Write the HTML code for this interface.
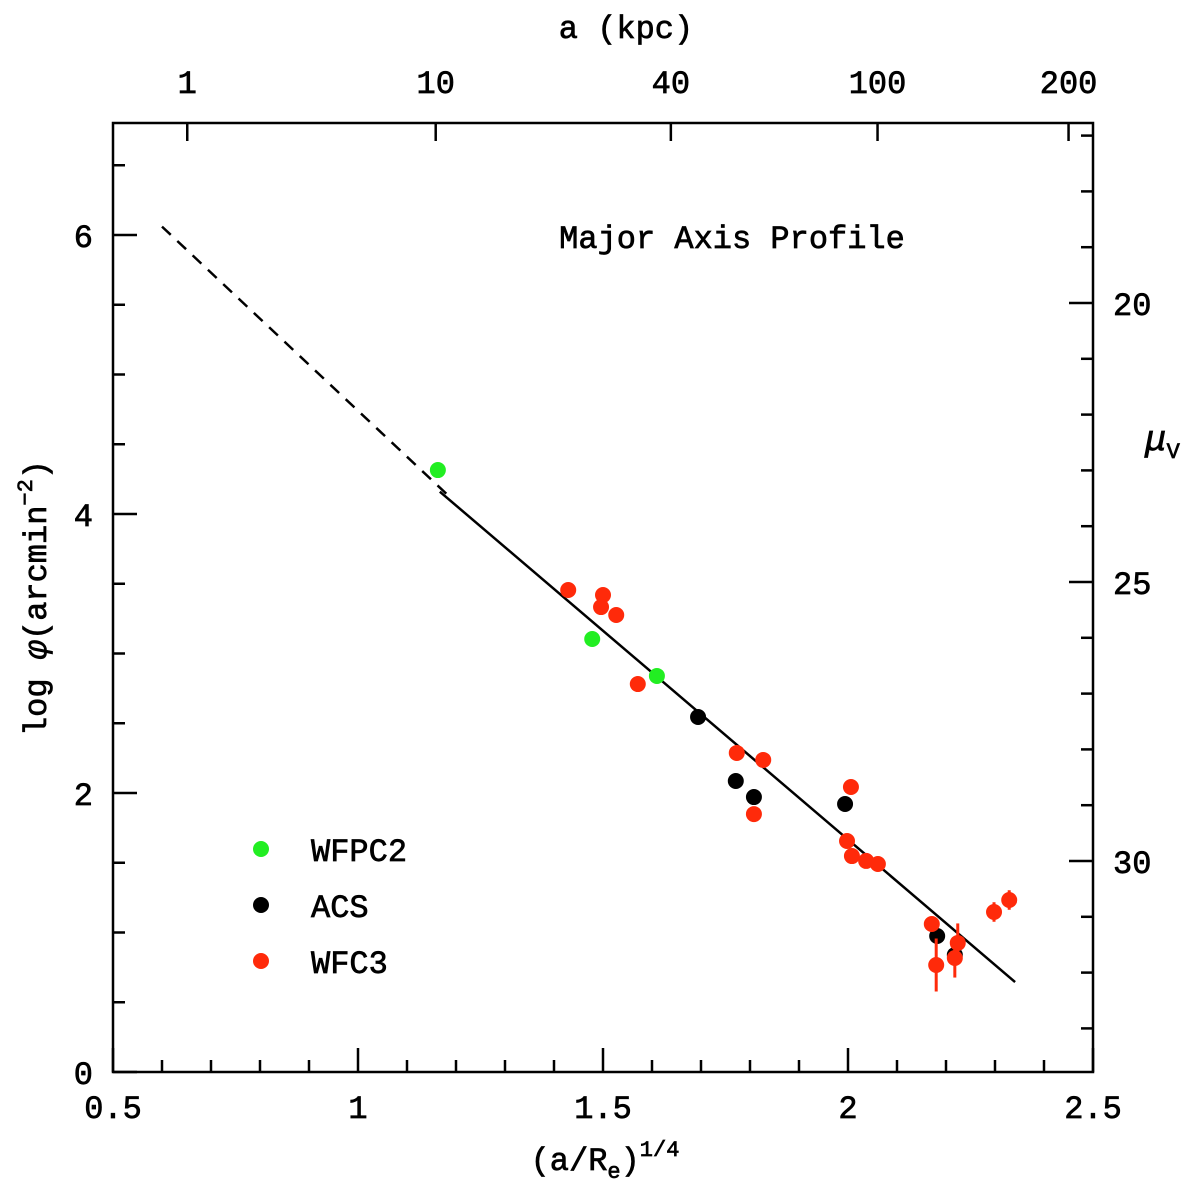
<!DOCTYPE html>
<html><head><meta charset="utf-8"><style>
html,body{margin:0;padding:0;background:#fff;}
svg text{font-family:"Liberation Mono",monospace;fill:#000;stroke:#000;stroke-width:0.7;}
</style></head><body>
<svg id="chart" width="1200" height="1188" viewBox="0 0 1200 1188" xmlns="http://www.w3.org/2000/svg"></svg>
<script>
const greenX=[1.163,1.478,1.610];
const greenY=[4.315,3.104,2.839];
const blackX=[1.694,1.771,1.808,1.994,2.182,2.218];
const blackY=[2.545,2.086,1.971,1.921,0.975,0.839];
const redX=[1.429,1.500,1.496,1.527,1.571,1.773,1.827,2.006,1.808,1.998,2.008,2.037,2.061,2.171,2.180,2.218,2.224,2.298,2.329];
const redY=[3.455,3.419,3.333,3.276,2.781,2.287,2.237,2.043,1.849,1.656,1.548,1.513,1.491,1.061,0.767,0.817,0.925,1.147,1.233];
const redErr=[0,0,0,0,0,0,0,0,0,0,0,0,0,0.05,0.19,0.14,0.14,0.07,0.07];
const fitDashX=[0.6,1.188];
const fitDashY=[6.06,4.12];
const fitX=[1.167,2.341];
const fitY=[4.16,0.645];
const xTicks=[0.5,1,1.5,2,2.5];
const xTickLabels=["0.5","1","1.5","2","2.5"];
const yTicks=[0,2,4,6];
const yTickLabels=["0","2","4","6"];
const muTicks=[20,25,30];
const muTickLabels=["20","25","30"];
const kpcTicks=[1,10,40,100,200];
const kpcTickLabels=["1","10","40","100","200"];
const Re=5.55;

const L=113,R=1093,T=123,B=1072;
const sx=v=>L+(v-0.5)*490;
const sy=v=>B-v*139.5;
const smu=m=>303+(m-20)*55.8;
const NS="http://www.w3.org/2000/svg";
const svg=document.getElementById('chart');
function mk(tag,attrs,parent){const e=document.createElementNS(NS,tag);for(const k in attrs)e.setAttribute(k,attrs[k]);(parent||svg).appendChild(e);return e;}

const frame=mk('rect',{x:L,y:T,width:R-L,height:B-T,fill:'none',stroke:'#000','stroke-width':2.5});



for(let v=0.5;v<=2.5001;v+=0.1){
  const major=Math.abs(v*2-Math.round(v*2))<1e-6;
  const t=mk('line',{x1:sx(v),x2:sx(v),y1:B,y2:B-(major?24:12),stroke:'#000','stroke-width':2.5});
  
  
}
xTicks.forEach((v,i)=>{
  const t=mk('text',{x:sx(v),y:B+46,'font-size':32,'text-anchor':'middle'});
  t.textContent=xTickLabels[i];
  
  
});
for(let v=0;v<=6.8001;v+=0.5){
  const major=Math.abs(v/2-Math.round(v/2))<1e-6;
  const t=mk('line',{x1:L,x2:L+(major?24:12),y1:sy(v),y2:sy(v),stroke:'#000','stroke-width':2.5});
  
  
}
yTicks.forEach((v,i)=>{
  const t=mk('text',{x:L-20,y:sy(v)+12,'font-size':32,'text-anchor':'end'});
  t.textContent=yTickLabels[i];
  
  
});
for(let m=17;m<=33;m++){
  const y=smu(m); if(y<T||y>B)continue;
  const major=m%5===0;
  const t=mk('line',{x1:R,x2:R-(major?24:12),y1:y,y2:y,stroke:'#000','stroke-width':2.5});
  
  
}
muTicks.forEach((m,i)=>{
  const t=mk('text',{x:R+20,y:smu(m)+12,'font-size':32,'text-anchor':'start'});
  t.textContent=muTickLabels[i];
  
  
});
kpcTicks.forEach((a,i)=>{
  const x=sx(Math.pow(a/Re,0.25));
  const t=mk('line',{x1:x,x2:x,y1:T,y2:T+18,stroke:'#000','stroke-width':2.5});
  
  
  const l=mk('text',{x:x,y:T-30,'font-size':32,'text-anchor':'middle'});
  l.textContent=kpcTickLabels[i];
  
  
});

const dashLine=mk('line',{x1:sx(fitDashX[0]),y1:sy(fitDashY[0]),x2:sx(fitDashX[1]),y2:sy(fitDashY[1]),stroke:'#000','stroke-width':2.5,'stroke-dasharray':'12 9'});


const solidLine=mk('line',{x1:sx(fitX[0]),y1:sy(fitY[0]),x2:sx(fitX[1]),y2:sy(fitY[1]),stroke:'#000','stroke-width':2.5});



function pts(xs,ys,col,name,errs){
  xs.forEach((x,i)=>{
    if(errs&&errs[i]>0){
      const e=mk('line',{x1:sx(x),x2:sx(x),y1:sy(ys[i]-errs[i]),y2:sy(ys[i]+errs[i]),stroke:col,'stroke-width':3});
      
      
    }
    const c=mk('circle',{cx:sx(x),cy:sy(ys[i]),r:8,fill:col});
    
    
  });
}
pts(greenX,greenY,'#22ee22','wfpc2');
pts(blackX,blackY,'#000000','acs');
pts(redX,redY,'#ff2a0a','wfc3',redErr);

[['WFPC2','#22ee22',849],['ACS','#000',905],['WFC3','#ff2a0a',961]].forEach(([n,c,y])=>{
  const m=mk('circle',{cx:261,cy:y,r:8,fill:c});
  
  
  const t=mk('text',{x:311,y:y+12,'font-size':32});
  t.textContent=n;
  
  
});

const plotTitle=mk('text',{x:732,y:248,'font-size':32,'text-anchor':'middle'});
plotTitle.textContent='Major Axis Profile';


const topTitle=mk('text',{x:626,y:38,'font-size':32,'text-anchor':'middle'});
topTitle.textContent='a (kpc)';


const xTitle=mk('text',{x:605,y:1170,'font-size':32,'text-anchor':'middle'});
xTitle.innerHTML='(a/R<tspan font-size="22" dy="8">e</tspan><tspan dy="-8">)</tspan><tspan font-size="22" dy="-14">1/4</tspan>';


const yTitle=mk('text',{x:0,y:0,'font-size':32,'text-anchor':'middle',transform:'translate(46,598) rotate(-90)'});
yTitle.innerHTML='log <tspan font-style="italic">φ</tspan>(arcmin<tspan font-size="22" dy="-14">−2</tspan><tspan dy="14">)</tspan>';


const muTitle=mk('text',{x:1145,y:450,'font-size':36,'font-style':'italic'});
muTitle.innerHTML='μ<tspan font-size="22" font-style="normal" dy="8">V</tspan>';


</script>
</body></html>
